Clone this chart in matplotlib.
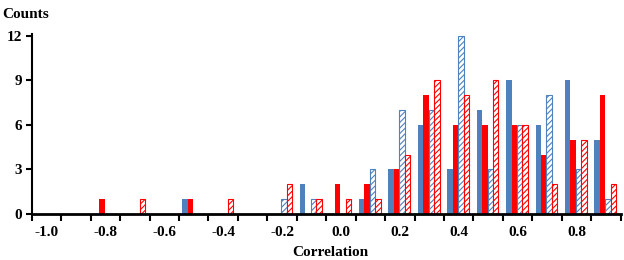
import matplotlib
matplotlib.use("Agg")
import matplotlib.pyplot as plt
import numpy as np

# 20 bins of width 0.1 from -1.0 to 1.0
bin_labels = ["-1.0", "", "-0.8", "", "-0.6", "", "-0.4", "", "-0.2", "",
              "0.0", "", "0.2", "", "0.4", "", "0.6", "", "0.8", ""]

blue_solid = [0, 0, 0, 0, 0, 1, 0, 0, 0, 2, 0, 1, 3, 6, 3, 7, 9, 6, 9, 5]
red_solid = [0, 0, 1, 0, 0, 1, 0, 0, 0, 0, 2, 2, 3, 8, 6, 6, 6, 4, 5, 8]
blue_hatch = [0, 0, 0, 0, 0, 0, 0, 0, 1, 1, 0, 3, 7, 7, 12, 3, 6, 8, 3, 1]
red_hatch = [0, 0, 0, 1, 0, 0, 1, 0, 2, 1, 1, 1, 4, 9, 8, 9, 6, 2, 5, 2]

BLUE = "#4F81BD"
RED = "#FF0000"

plt.rcParams["font.family"] = ["Liberation Serif", "DejaVu Serif"]
plt.rcParams["font.weight"] = "bold"
plt.rcParams["hatch.linewidth"] = 0.8

fig = plt.figure(figsize=(6.24, 2.6), dpi=100)
ax = fig.add_axes([0.0508, 0.177, 0.944, 0.692])

x = np.arange(len(bin_labels))
w = 0.185
ax.bar(x - 0.30, blue_solid, w, color=BLUE, linewidth=0)
ax.bar(x - 0.115, red_solid, w, color=RED, linewidth=0)
ax.bar(x + 0.07, blue_hatch, w, facecolor="white", edgecolor=BLUE,
       hatch="//////", linewidth=0.8)
ax.bar(x + 0.255, red_hatch, w, facecolor="white", edgecolor=RED,
       hatch="//////", linewidth=0.8)

ax.set_xlim(-0.5, len(bin_labels) - 0.5)
ax.set_ylim(0, 12.1)

# tick marks on bin edges, labels on bin centres
ax.set_xticks(np.arange(len(bin_labels) + 1) - 0.5)
ax.set_xticklabels([""] * (len(bin_labels) + 1))
ax.set_xticks(list(x) + [len(bin_labels) - 0.5], minor=True)
ax.set_xticklabels(bin_labels + ["1"], minor=True, fontsize=11, fontweight="bold")
ax.tick_params(axis="x", which="major", direction="out", length=5, width=1.5)
ax.tick_params(axis="x", which="minor", length=0, pad=9)

ax.set_yticks([0, 3, 6, 9, 12])
ax.tick_params(axis="y", direction="out", length=4, width=1.5, labelsize=11, pad=3)
for lab in ax.get_yticklabels():
    lab.set_fontweight("bold")

for s in ["top", "right"]:
    ax.spines[s].set_visible(False)
ax.spines["left"].set_linewidth(1.5)
ax.spines["bottom"].set_linewidth(2)

fig.text(0.003, 0.97, "Counts", fontsize=11, fontweight="bold", va="top", ha="left")
fig.text(0.53, 0.005, "Correlation", fontsize=11, fontweight="bold", va="bottom", ha="center")

fig.savefig("out.png", dpi=100)
